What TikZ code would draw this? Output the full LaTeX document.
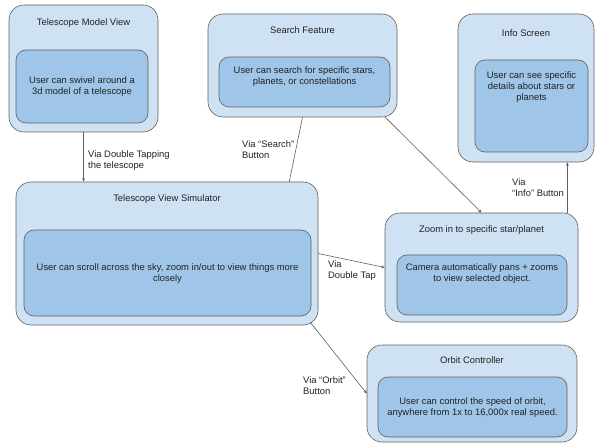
\documentclass[tikz,border=0pt]{standalone}
\usepackage{fontspec}
\setmainfont{Liberation Sans}
\usetikzlibrary{arrows.meta,calc}
\definecolor{outerfill}{HTML}{CFE2F3}
\definecolor{innerfill}{HTML}{9FC5E8}
\definecolor{edgegray}{HTML}{5F5F5F}
\definecolor{txtcol}{HTML}{222222}
\begin{document}
\begin{tikzpicture}[x=1pt,y=-1pt,
  outerbox/.style={draw=edgegray, line width=0.6pt, fill=outerfill, rounded corners=15pt, inner sep=0pt},
  innerbox/.style={draw=edgegray, line width=0.6pt, fill=innerfill, rounded corners=10pt, inner sep=0pt},
  txt/.style={font=\fontsize{9.4}{11}\selectfont, text=txtcol, align=center, inner sep=0pt},
  lbl/.style={txt, align=left, anchor=west},
  link/.style={draw=edgegray, line width=0.6pt},
  arr/.style={link, -{Stealth[length=3.5pt,width=3pt]}}]
\useasboundingbox (0,0) rectangle (596,443);

% Telescope Model View
\node[outerbox, minimum width=149pt, minimum height=127pt] (tmv) at (83.5,68.5) {};
\node[innerbox, minimum width=132pt, minimum height=73pt] (tmvi) at (82,86.5) {};
\node[txt] (tmvt) at (83.5,23) {Telescope Model View};
\node[txt] (tmvx) at (82,87) {User can swivel around a\\3d model of a telescope};

% Search Feature
\node[outerbox, minimum width=189pt, minimum height=103pt] (sf) at (302.5,65.5) {};
\node[innerbox, minimum width=171pt, minimum height=50pt] (sfi) at (304.5,82) {};
\node[txt] (sft) at (302.5,30) {Search Feature};
\node[txt] (sfx) at (304.5,76.5) {User can search for specific stars,\\planets, or constellations};

% Info Screen
\node[outerbox, minimum width=136pt, minimum height=148pt] (is) at (526,88) {};
\node[innerbox, minimum width=113pt, minimum height=92pt] (isi) at (531.5,106) {};
\node[txt] (ist) at (526,33) {Info Screen};
\node[txt] (isx) at (531.5,87) {User can see specific\\details about stars or\\planets};

% Telescope View Simulator
\node[outerbox, minimum width=302pt, minimum height=143pt] (tvs) at (167,253.5) {};
\node[innerbox, minimum width=287pt, minimum height=86pt] (tvsi) at (167.5,273) {};
\node[txt] (tvst) at (167,199) {Telescope View Simulator};
\node[txt] (tvsx) at (167.5,273.5) {User can scroll across the sky, zoom in/out to view things more\\closely};

% Zoom in
\node[outerbox, minimum width=193pt, minimum height=109pt] (zm) at (481.5,267.5) {};
\node[innerbox, minimum width=170pt, minimum height=60pt] (zmi) at (482,285) {};
\node[txt] (zmt) at (481.5,230) {Zoom in to specific star/planet};
\node[txt] (zmx) at (482,274) {Camera automatically pans + zooms\\to view selected object.};

% Orbit Controller
\node[outerbox, minimum width=210pt, minimum height=97pt] (oc) at (472,393.5) {};
\node[innerbox, minimum width=189pt, minimum height=60pt] (oci) at (472.5,407) {};
\node[txt] (oct) at (472,360) {Orbit Controller};
\node[txt] (ocx) at (472.5,407.5) {User can control the speed of orbit,\\anywhere from 1x to 16,000x real speed.};

% connectors
\draw[arr] (tmv.south) -- (tmv.south |- tvs.north);
\draw[link] (sf.south) -- ($(tvs.north west)!0.904!(tvs.north east)$);
\draw[arr] ($(sf.south west)!0.937!(sf.south east)$) -- (zm.north);
\draw[arr] (tvs.east) -- (zm.west);
\draw[arr] ($(zm.north west)!0.943!(zm.north east)$) coordinate (zmtop) -- (zmtop |- is.south);
\draw[arr] ($(tvs.south east)+(-8,-3)$) -- (oc.west);

% labels
\node[lbl] (l1) at (88,160.5) {Via Double Tapping\\the telescope};
\node[lbl] (l2) at (242,149.5) {Via “Search”\\Button};
\node[lbl] (l3) at (328,270.5) {Via\\Double Tap};
\node[lbl] (l4) at (512,187.5) {Via\\“Info” Button};
\node[lbl] (l5) at (303,385.5) {Via “Orbit”\\Button};
\end{tikzpicture}
\end{document}
